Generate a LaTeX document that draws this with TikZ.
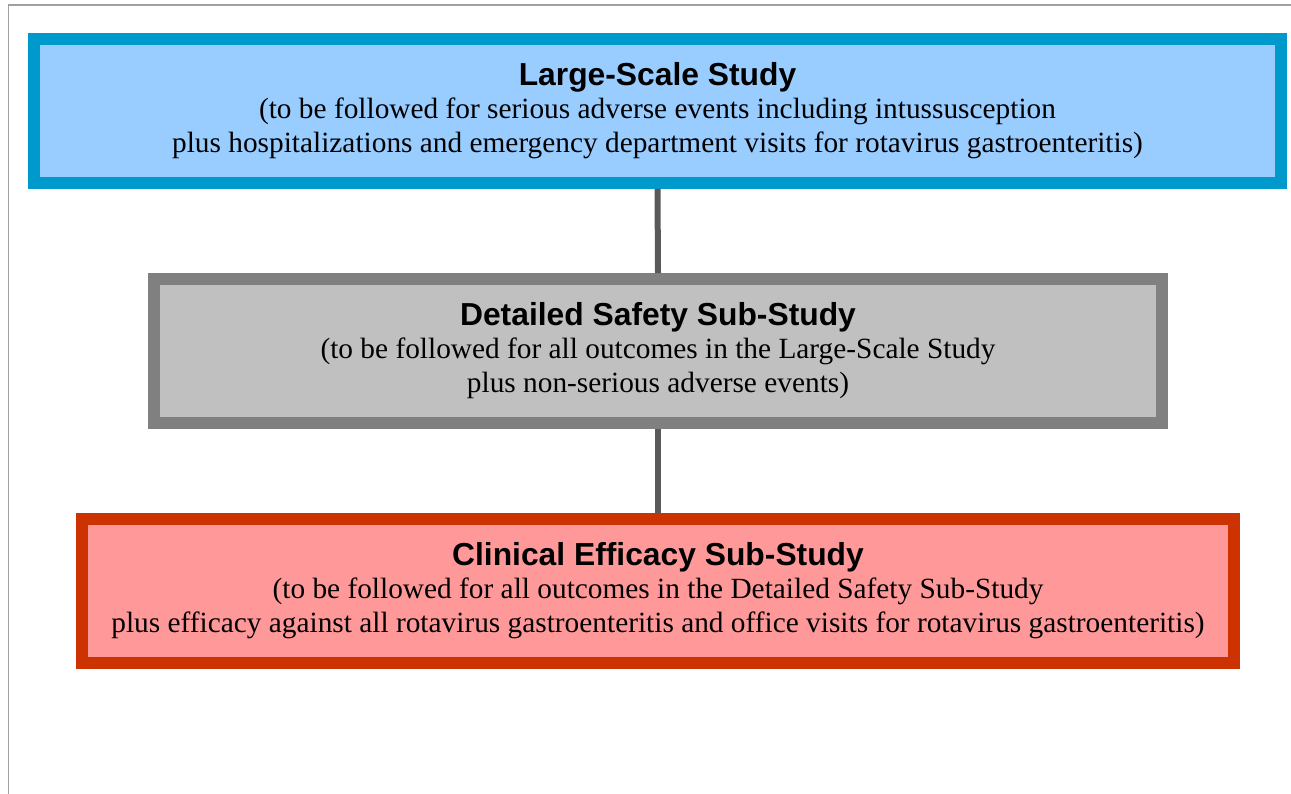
\documentclass[tikz,border=0pt]{standalone}
\usepackage{fontspec}
\setmainfont{Liberation Serif}
\setsansfont{Liberation Sans}
\usepackage{tikz}
\definecolor{largefill}{HTML}{99CCFF}
\definecolor{largeline}{HTML}{0099CC}
\definecolor{safetyfill}{HTML}{C0C0C0}
\definecolor{safetyline}{HTML}{808080}
\definecolor{efficfill}{HTML}{FF9999}
\definecolor{efficline}{HTML}{CC3300}
\definecolor{linkgray}{HTML}{595959}
\definecolor{framegray}{HTML}{A0A0A0}
\newcommand{\boxtitle}[1]{{\sffamily\bfseries\fontsize{18.1}{19}\selectfont #1}}

\begin{document}
\begin{tikzpicture}
  [x=0.02cm,y=-0.02cm,
   every node/.style={rectangle,draw,line width=0.24cm,minimum height=2.88cm,
     inner sep=0pt,align=center,font=\fontsize{16.7}{19.6}\selectfont}]

  \useasboundingbox (0,0) rectangle (1291,794);
  \draw[framegray,line width=0.04cm] (8.5,800) -- (8.5,5) -- (1300,5);

  \node[fill=largefill,draw=largeline,minimum width=24.94cm] (large) at (657.5,111)
    {\boxtitle{Large-Scale Study}\\[-1pt]
     (to be followed for serious adverse events including intussusception\\
     plus hospitalizations and emergency department visits for rotavirus gastroenteritis)};
  \node[fill=safetyfill,draw=safetyline,minimum width=20.16cm] (safety) at (658,351)
    {\boxtitle{Detailed Safety Sub-Study}\\[-1pt]
     (to be followed for all outcomes in the Large-Scale Study\\
     plus non-serious adverse events)};
  \node[fill=efficfill,draw=efficline,minimum width=23.04cm] (effic) at (658,591)
    {\boxtitle{Clinical Efficacy Sub-Study}\\[-1pt]
     (to be followed for all outcomes in the Detailed Safety Sub-Study\\
     plus efficacy against all rotavirus gastroenteritis and office visits for rotavirus gastroenteritis)};

  \foreach \from/\to in {large/safety,safety/effic}
    \draw[linkgray,line width=0.12cm] (\from.south) -- (\to.north);
\end{tikzpicture}
\end{document}
